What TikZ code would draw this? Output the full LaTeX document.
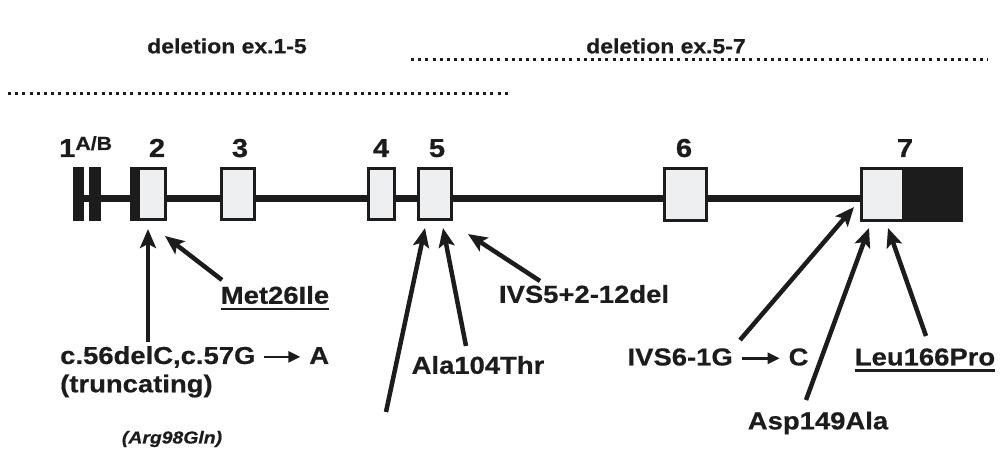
\documentclass[tikz,border=0pt]{standalone}
\usepackage{fontspec}
\setmainfont{Liberation Sans}[FakeStretch=1.12,BoldFeatures={FakeBold=0.6},BoldItalicFeatures={FakeBold=0.6}]
\usetikzlibrary{arrows.meta}
\definecolor{ink}{HTML}{1C1C1C}
\definecolor{exfill}{HTML}{EEEFF1}
% short arrow used inside the mutation labels
\newcommand\txtarrow[1]{\tikz[baseline=-0.55ex]\draw[ink,line width=2.6pt,-{Triangle[length=12pt,width=11pt]}](0pt,0pt)--(#1,0pt);}

\begin{document}
\begin{tikzpicture}[x=1pt,y=-1pt,
  exon/.style={draw=ink,line width=3pt,fill=exfill,inner sep=0pt},
  solid exon/.style={fill=ink,inner sep=0pt},
  intron/.style={draw=ink,line width=7pt},
  num/.style={text=ink,font=\bfseries\fontsize{26}{26}\selectfont,inner sep=0pt,anchor=base},
  title/.style={text=ink,font=\bfseries\fontsize{20.5}{20.5}\selectfont,inner sep=0pt},
  mut/.style={text=ink,font=\bfseries\fontsize{24.5}{29}\selectfont,inner sep=0pt,align=left},
  region/.style={draw=ink,line width=3pt,dash pattern=on 3pt off 4.2pt},
  pointer/.style={draw=ink,line width=4.5pt,-{Stealth[length=19pt,width=16pt,inset=4pt]}},
  uline/.style={draw=ink,line width=2.2pt}
]
\useasboundingbox (0,0) rectangle (1004,449);

% deleted regions
\node[title] (d15) at (227,46) {deletion ex.1-5};
\node[title] (d57) at (666,46) {deletion ex.5-7};
\coordinate (r1a) at (8,94);   \coordinate (r1b) at (510,94);
\coordinate (r2a) at (411,60); \coordinate (r2b) at (988,60);
\draw[region] (r1a) -- (r1b);
\draw[region] (r2a) -- (r2b);

% intron backbone
\coordinate (bb1) at (73,198.5);
\coordinate (bb2) at (862,198.5);
\draw[intron] (bb1) -- (bb2);

% exons
\node[solid exon,minimum width=11pt,minimum height=54pt] (e1a) at (78.5,194) {};
\node[solid exon,minimum width=12pt,minimum height=54pt] (e1b) at (95,194) {};
\node[exon,minimum width=34pt,minimum height=51pt] (e2) at (148.5,194) {};
\fill[ink] (e2.north west) rectangle ([xshift=10pt]e2.south west);
\node[exon,minimum width=33pt,minimum height=51pt] (e3) at (238,194) {};
\node[exon,minimum width=26pt,minimum height=51pt] (e4) at (381.5,194) {};
\node[exon,minimum width=33pt,minimum height=51pt] (e5) at (435,194) {};
\node[exon,minimum width=42pt,minimum height=52pt] (e6) at (685.5,194.5) {};
\node[solid exon,minimum width=60pt,minimum height=55pt] (e7b) at (933,194.5) {};
\node[exon,minimum width=42pt,minimum height=52pt] (e7) at (882.5,194.5) {};

% exon numbers
\node[num,anchor=base west] (n1) at (59,157) {1\raisebox{7pt}{\fontsize{19}{19}\selectfont A/B}};
\node[num] (n2) at (157,157) {2};
\node[num] (n3) at (240,157) {3};
\node[num] (n4) at (381,157) {4};
\node[num] (n5) at (437,157) {5};
\node[num] (n6) at (684,157) {6};
\node[num] (n7) at (905,157) {7};

% mutation labels
\node[mut,anchor=west] (m1) at (60,357) {c.56delC,c.57G \txtarrow{36pt} A};
\node[mut,anchor=west] (m1b) at (60,386) {(truncating)};
\node[mut] (m2) at (275,295) {Met26Ile};
\node[text=ink,font=\bfseries\itshape\fontsize{17.3}{17.3}\selectfont,inner sep=0pt] (m3) at (172,439) {(Arg98Gln)};
\node[mut] (m4) at (478,365) {Ala104Thr};
\node[mut] (m5) at (584,294) {IVS5+2-12del};
\node[mut] (m6) at (718,357) {IVS6-1G \txtarrow{38pt} C};
\node[mut] (m7) at (818,423) {Asp149Ala};
\node[mut] (m8) at (925,357) {Leu166Pro};
\draw[uline] ([yshift=-5pt]m2.base west) -- ([yshift=-5pt]m2.base east);
\draw[uline] ([yshift=-5pt]m8.base west) -- ([yshift=-5pt]m8.base east);

% arrow ends
\coordinate (t1) at (148,229);  \coordinate (s1) at (148,342);
\coordinate (t2) at (165,236);  \coordinate (s2) at (222,280);
\coordinate (t3) at (425,228);  \coordinate (s3) at (386,412);
\coordinate (t4) at (443,228);  \coordinate (s4) at (466,346);
\coordinate (t5) at (468,234);  \coordinate (s5) at (540,281);
\coordinate (t6) at (854,207);  \coordinate (s6) at (740,340);
\coordinate (t7) at (869,228);  \coordinate (s7) at (806,400);
\coordinate (t8) at (888,228);  \coordinate (s8) at (926,336);
\foreach \i in {1,...,8} {\draw[pointer] (s\i) -- (t\i);}
\end{tikzpicture}
\end{document}
